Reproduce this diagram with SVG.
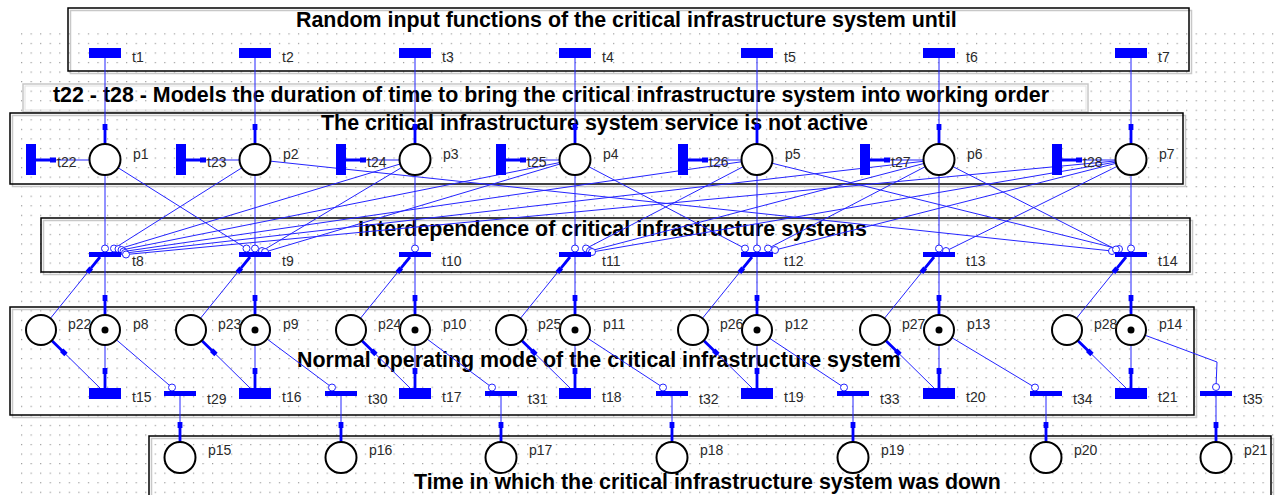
<svg xmlns="http://www.w3.org/2000/svg" width="1276" height="495" viewBox="0 0 1276 495">
<defs>
<pattern id="grid" patternUnits="userSpaceOnUse" x="21" y="33.3" width="9.55" height="9.55">
<rect x="0" y="0" width="1.2" height="1.2" fill="#9a9a9a"/>
</pattern>
<marker id="arr" markerUnits="userSpaceOnUse" viewBox="-22 -4 23 8" refX="0" refY="0" markerWidth="23" markerHeight="8" orient="auto">
<path d="M-20,-2.4h6v4.8h-6z M-14,-1.4H0v2.8H-14z" fill="#0000ff"/>
</marker>
<style>
.box{fill:none;stroke:#000;stroke-width:1.5}
.sh{fill:none;stroke:#c8c8c8;stroke-width:1.5}
.title{font-family:"Liberation Sans",Arial,sans-serif;font-weight:bold;font-size:21.4px;fill:#000}
.lbl{font-family:"Liberation Sans",Arial,sans-serif;font-size:14px;fill:#2a2a2a}
.tr{fill:#0000ff}
.pl{fill:#fff;stroke:#000;stroke-width:2}
.tok{fill:#000}
.arc{stroke:#2424ff;stroke-width:1;fill:none}
.ar{stroke:#2424ff;stroke-width:1;fill:none;marker-end:url(#arr)}
.inh{fill:#fff;stroke:#2424ff;stroke-width:1}
</style>
</defs>
<rect x="0" y="0" width="1276" height="495" fill="#fff"/>
<rect x="20" y="33" width="1256" height="462" fill="url(#grid)"/>

<g id="boxes">
<rect class="sh" x="70.5" y="10.5" width="1121" height="63"/>
<rect class="box" x="68" y="8" width="1121" height="63"/>
<text class="title" x="296" y="27">Random input functions of the critical infrastructure system until</text>
<rect class="sh" x="23" y="84" width="1065" height="28"/>
<rect x="25" y="86" width="1061" height="24" fill="none" stroke="#e2e2e2" stroke-width="1"/>
<text class="title" x="53" y="102">t22 - t28 - Models the duration of time to bring the critical infrastructure system into working order</text>
<rect class="sh" x="12.5" y="115.5" width="1173" height="71"/>
<rect class="box" x="10" y="113" width="1173" height="71"/>
<text class="title" x="321" y="130">The critical infrastructure system service is not active</text>
<rect class="sh" x="43.5" y="220.5" width="1149" height="54"/>
<rect class="box" x="41" y="218" width="1149" height="54"/>
<text class="title" x="358" y="236">Interdependence of critical infrastructure systems</text>
<rect class="sh" x="12.5" y="309.5" width="1184" height="108"/>
<rect class="box" x="10" y="307" width="1184" height="108"/>
<text class="title" x="297" y="367">Normal operating mode of the critical infrastructure system</text>
<rect class="sh" x="151.5" y="438.5" width="1122" height="70"/>
<rect class="box" x="149" y="436" width="1122" height="70"/>
<text class="title" x="414" y="489">Time in which the critical infrastructure system was down</text>
</g>

<g id="connectors">
<!-- t1..t7 -> p1..p7 -->
<path class="ar" d="M105,58V144"/><path class="ar" d="M255,58V144"/><path class="ar" d="M415,58V144"/><path class="ar" d="M575,58V144"/><path class="ar" d="M757,58V144"/><path class="ar" d="M939,58V144"/><path class="ar" d="M1131,58V144"/>
<!-- p -> t22..t28 -->
<path class="ar" d="M105,160H36"/><path class="ar" d="M255,160H186"/><path class="ar" d="M415,160H346"/><path class="ar" d="M575,160H506"/><path class="ar" d="M757,160H688"/><path class="ar" d="M939,160H870"/><path class="ar" d="M1131,160H1062"/>
<!-- inhibitor arcs p -> t8..t14 -->
<path class="arc" d="M105,159.5V248.5 M255,159.5V248.5 M415,159.5V248.5 M575,159.5V248.5 M757,159.5V248.5 M939,159.5V248.5 M1131,159.5V248.5"/>
<path class="arc" d="M105,159.5L246.5,248.5 M255,159.5L114,248.5 M415,159.5L118.5,249 M415,159.5L262,251 M575,159.5L121.5,250 M575,159.5L265,252 M575,159.5L745,248.5 M757,159.5L123.5,251.5 M757,159.5L586,248.5 M757,159.5L1119,249 M939,159.5L125,253 M939,159.5L590,251 M939,159.5L768,248.5 M939,159.5L1116,249.5 M1131,159.5L126,254.5 M1131,159.5L592,252 M1131,159.5L775,250 M1131,159.5L946,251 M255,159.5L1112,251"/>
<g class="inh">
<circle cx="105" cy="248.5" r="3.5"/><circle cx="255" cy="248.5" r="3.5"/><circle cx="415" cy="248.5" r="3.5"/><circle cx="575" cy="248.5" r="3.5"/><circle cx="757" cy="248.5" r="3.5"/><circle cx="939" cy="248.5" r="3.5"/><circle cx="1131" cy="248.5" r="3.5"/>
<circle cx="114" cy="248.5" r="3.5"/><circle cx="118.5" cy="249" r="3.5"/><circle cx="121.5" cy="250" r="3.5"/><circle cx="123.5" cy="251.5" r="3.5"/><circle cx="125" cy="253" r="3.5"/><circle cx="126" cy="254.5" r="3.5"/>
<circle cx="246.5" cy="248.5" r="3.5"/><circle cx="262" cy="251" r="3.5"/><circle cx="265" cy="252" r="3.5"/>
<circle cx="586" cy="248.5" r="3.5"/><circle cx="590" cy="251" r="3.5"/><circle cx="592" cy="252" r="3.5"/>
<circle cx="745" cy="248.5" r="3.5"/><circle cx="768" cy="248.5" r="3.5"/><circle cx="775" cy="250" r="3.5"/>
<circle cx="946" cy="251" r="3.5"/>
<circle cx="1112" cy="251" r="3.5"/><circle cx="1119" cy="249" r="3.5"/><circle cx="1116" cy="249.5" r="3.5"/>
</g>
<!-- t8..t14 -> p8..p14 -->
<path class="ar" d="M105,257V315"/><path class="ar" d="M255,257V315"/><path class="ar" d="M415,257V315"/><path class="ar" d="M575,257V315"/><path class="ar" d="M757,257V315"/><path class="ar" d="M939,257V315"/><path class="ar" d="M1131,257V315"/>
<!-- p22..p28 -> t8..t14 -->
<path class="ar" d="M41,330L100,257"/><path class="ar" d="M191,330L250,257"/><path class="ar" d="M351,330L410,257"/><path class="ar" d="M511,330L570,257"/><path class="ar" d="M693,330L752,257"/><path class="ar" d="M875,330L934,257"/><path class="ar" d="M1067,330L1126,257"/>
<!-- t15..t21 -> p22..p28 -->
<path class="ar" d="M100,388L51.7,340.5"/><path class="ar" d="M250,388L201.7,340.5"/><path class="ar" d="M410,388L361.7,340.5"/><path class="ar" d="M570,388L521.7,340.5"/><path class="ar" d="M752,388L703.7,340.5"/><path class="ar" d="M934,388L885.7,340.5"/><path class="ar" d="M1126,388L1077.7,340.5"/>
<!-- p8..p14 -> t15..t21 -->
<path class="ar" d="M105,345V388"/><path class="ar" d="M255,345V388"/><path class="ar" d="M415,345V388"/><path class="ar" d="M575,345V388"/><path class="ar" d="M757,345V388"/><path class="ar" d="M939,345V388"/><path class="ar" d="M1131,345V388"/>
<!-- inhibitor p8..p14 -> t29..t35 -->
<path class="arc" d="M105,330L172,387.5 M255,330L332,387.5 M415,330L492,387.5 M575,330L663,387.5 M757,330L844,387.5 M939,330L1035,387.5 M1131,330L1217,362L1216,387.5"/>
<g class="inh">
<circle cx="172" cy="387.5" r="3.5"/><circle cx="332" cy="387.5" r="3.5"/><circle cx="492" cy="387.5" r="3.5"/><circle cx="663" cy="387.5" r="3.5"/><circle cx="844" cy="387.5" r="3.5"/><circle cx="1035" cy="387.5" r="3.5"/><circle cx="1216" cy="387" r="3.5"/>
</g>
<!-- t29..t35 -> p15..p21 -->
<path class="ar" d="M180,396V442"/><path class="ar" d="M341,396V442"/><path class="ar" d="M501,396V442"/><path class="ar" d="M672,396V442"/><path class="ar" d="M853,396V442"/><path class="ar" d="M1046,396V442"/><path class="ar" d="M1216,396V442"/>
</g>

<g id="t1"><rect class="tr" x="89" y="48" width="32" height="10"/><text class="lbl" x="132" y="62">t1</text></g>
<g id="t2"><rect class="tr" x="239" y="48" width="32" height="10"/><text class="lbl" x="282" y="62">t2</text></g>
<g id="t3"><rect class="tr" x="399" y="48" width="32" height="10"/><text class="lbl" x="442" y="62">t3</text></g>
<g id="t4"><rect class="tr" x="559" y="48" width="32" height="10"/><text class="lbl" x="602" y="62">t4</text></g>
<g id="t5"><rect class="tr" x="741" y="48" width="32" height="10"/><text class="lbl" x="784" y="62">t5</text></g>
<g id="t6"><rect class="tr" x="923" y="48" width="32" height="10"/><text class="lbl" x="966" y="62">t6</text></g>
<g id="t7"><rect class="tr" x="1115" y="48" width="32" height="10"/><text class="lbl" x="1158" y="62">t7</text></g>

<g id="p1"><circle class="pl" cx="105" cy="159.5" r="15.5"/><text class="lbl" x="133" y="159">p1</text></g>
<g id="p2"><circle class="pl" cx="255" cy="159.5" r="15.5"/><text class="lbl" x="283" y="159">p2</text></g>
<g id="p3"><circle class="pl" cx="415" cy="159.5" r="15.5"/><text class="lbl" x="443" y="159">p3</text></g>
<g id="p4"><circle class="pl" cx="575" cy="159.5" r="15.5"/><text class="lbl" x="603" y="159">p4</text></g>
<g id="p5"><circle class="pl" cx="757" cy="159.5" r="15.5"/><text class="lbl" x="785" y="159">p5</text></g>
<g id="p6"><circle class="pl" cx="939" cy="159.5" r="15.5"/><text class="lbl" x="967" y="159">p6</text></g>
<g id="p7"><circle class="pl" cx="1131" cy="159.5" r="15.5"/><text class="lbl" x="1159" y="159">p7</text></g>

<g id="t22"><rect class="tr" x="26" y="144" width="10" height="31"/><text class="lbl" x="57" y="167">t22</text></g>
<g id="t23"><rect class="tr" x="176" y="144" width="10" height="31"/><text class="lbl" x="207" y="167">t23</text></g>
<g id="t24"><rect class="tr" x="336" y="144" width="10" height="31"/><text class="lbl" x="367" y="167">t24</text></g>
<g id="t25"><rect class="tr" x="496" y="144" width="10" height="31"/><text class="lbl" x="527" y="167">t25</text></g>
<g id="t26"><rect class="tr" x="678" y="144" width="10" height="31"/><text class="lbl" x="709" y="167">t26</text></g>
<g id="t27"><rect class="tr" x="860" y="144" width="10" height="31"/><text class="lbl" x="891" y="167">t27</text></g>
<g id="t28"><rect class="tr" x="1052" y="144" width="10" height="31"/><text class="lbl" x="1083" y="167">t28</text></g>

<g id="t8"><rect class="tr" x="89" y="252" width="32" height="5"/><text class="lbl" x="132" y="266">t8</text></g>
<g id="t9"><rect class="tr" x="239" y="252" width="32" height="5"/><text class="lbl" x="282" y="266">t9</text></g>
<g id="t10"><rect class="tr" x="399" y="252" width="32" height="5"/><text class="lbl" x="442" y="266">t10</text></g>
<g id="t11"><rect class="tr" x="559" y="252" width="32" height="5"/><text class="lbl" x="602" y="266">t11</text></g>
<g id="t12"><rect class="tr" x="741" y="252" width="32" height="5"/><text class="lbl" x="784" y="266">t12</text></g>
<g id="t13"><rect class="tr" x="923" y="252" width="32" height="5"/><text class="lbl" x="966" y="266">t13</text></g>
<g id="t14"><rect class="tr" x="1115" y="252" width="32" height="5"/><text class="lbl" x="1158" y="266">t14</text></g>

<g id="p8"><circle class="pl" cx="105" cy="330" r="15"/><circle class="tok" cx="105" cy="330" r="3.5"/><text class="lbl" x="133" y="329">p8</text></g>
<g id="p9"><circle class="pl" cx="255" cy="330" r="15"/><circle class="tok" cx="255" cy="330" r="3.5"/><text class="lbl" x="283" y="329">p9</text></g>
<g id="p10"><circle class="pl" cx="415" cy="330" r="15"/><circle class="tok" cx="415" cy="330" r="3.5"/><text class="lbl" x="443" y="329">p10</text></g>
<g id="p11"><circle class="pl" cx="575" cy="330" r="15"/><circle class="tok" cx="575" cy="330" r="3.5"/><text class="lbl" x="603" y="329">p11</text></g>
<g id="p12"><circle class="pl" cx="757" cy="330" r="15"/><circle class="tok" cx="757" cy="330" r="3.5"/><text class="lbl" x="785" y="329">p12</text></g>
<g id="p13"><circle class="pl" cx="939" cy="330" r="15"/><circle class="tok" cx="939" cy="330" r="3.5"/><text class="lbl" x="967" y="329">p13</text></g>
<g id="p14"><circle class="pl" cx="1131" cy="330" r="15"/><circle class="tok" cx="1131" cy="330" r="3.5"/><text class="lbl" x="1159" y="329">p14</text></g>

<g id="p22"><circle class="pl" cx="41" cy="330" r="15"/><text class="lbl" x="68" y="329">p22</text></g>
<g id="p23"><circle class="pl" cx="191" cy="330" r="15"/><text class="lbl" x="218" y="329">p23</text></g>
<g id="p24"><circle class="pl" cx="351" cy="330" r="15"/><text class="lbl" x="378" y="329">p24</text></g>
<g id="p25"><circle class="pl" cx="511" cy="330" r="15"/><text class="lbl" x="538" y="329">p25</text></g>
<g id="p26"><circle class="pl" cx="693" cy="330" r="15"/><text class="lbl" x="720" y="329">p26</text></g>
<g id="p27"><circle class="pl" cx="875" cy="330" r="15"/><text class="lbl" x="902" y="329">p27</text></g>
<g id="p28"><circle class="pl" cx="1067" cy="330" r="15"/><text class="lbl" x="1094" y="329">p28</text></g>

<g id="t15"><rect class="tr" x="89" y="388" width="32" height="11"/><text class="lbl" x="132" y="402">t15</text></g>
<g id="t16"><rect class="tr" x="239" y="388" width="32" height="11"/><text class="lbl" x="282" y="402">t16</text></g>
<g id="t17"><rect class="tr" x="399" y="388" width="32" height="11"/><text class="lbl" x="442" y="402">t17</text></g>
<g id="t18"><rect class="tr" x="559" y="388" width="32" height="11"/><text class="lbl" x="602" y="402">t18</text></g>
<g id="t19"><rect class="tr" x="741" y="388" width="32" height="11"/><text class="lbl" x="784" y="402">t19</text></g>
<g id="t20"><rect class="tr" x="923" y="388" width="32" height="11"/><text class="lbl" x="966" y="402">t20</text></g>
<g id="t21"><rect class="tr" x="1115" y="388" width="32" height="11"/><text class="lbl" x="1158" y="402">t21</text></g>

<g id="t29"><rect class="tr" x="164" y="391" width="32" height="5"/><text class="lbl" x="207" y="404">t29</text></g>
<g id="t30"><rect class="tr" x="325" y="391" width="32" height="5"/><text class="lbl" x="368" y="404">t30</text></g>
<g id="t31"><rect class="tr" x="485" y="391" width="32" height="5"/><text class="lbl" x="528" y="404">t31</text></g>
<g id="t32"><rect class="tr" x="656" y="391" width="32" height="5"/><text class="lbl" x="699" y="404">t32</text></g>
<g id="t33"><rect class="tr" x="837" y="391" width="32" height="5"/><text class="lbl" x="880" y="404">t33</text></g>
<g id="t34"><rect class="tr" x="1030" y="391" width="32" height="5"/><text class="lbl" x="1073" y="404">t34</text></g>
<g id="t35"><rect class="tr" x="1200" y="391" width="32" height="5"/><text class="lbl" x="1243" y="404">t35</text></g>

<g id="p15"><circle class="pl" cx="180" cy="457.5" r="15.5"/><text class="lbl" x="208" y="455">p15</text></g>
<g id="p16"><circle class="pl" cx="341" cy="457.5" r="15.5"/><text class="lbl" x="369" y="455">p16</text></g>
<g id="p17"><circle class="pl" cx="501" cy="457.5" r="15.5"/><text class="lbl" x="529" y="455">p17</text></g>
<g id="p18"><circle class="pl" cx="672" cy="457.5" r="15.5"/><text class="lbl" x="700" y="455">p18</text></g>
<g id="p19"><circle class="pl" cx="853" cy="457.5" r="15.5"/><text class="lbl" x="881" y="455">p19</text></g>
<g id="p20"><circle class="pl" cx="1046" cy="457.5" r="15.5"/><text class="lbl" x="1074" y="455">p20</text></g>
<g id="p21"><circle class="pl" cx="1216" cy="457.5" r="15.5"/><text class="lbl" x="1244" y="455">p21</text></g>
</svg>
